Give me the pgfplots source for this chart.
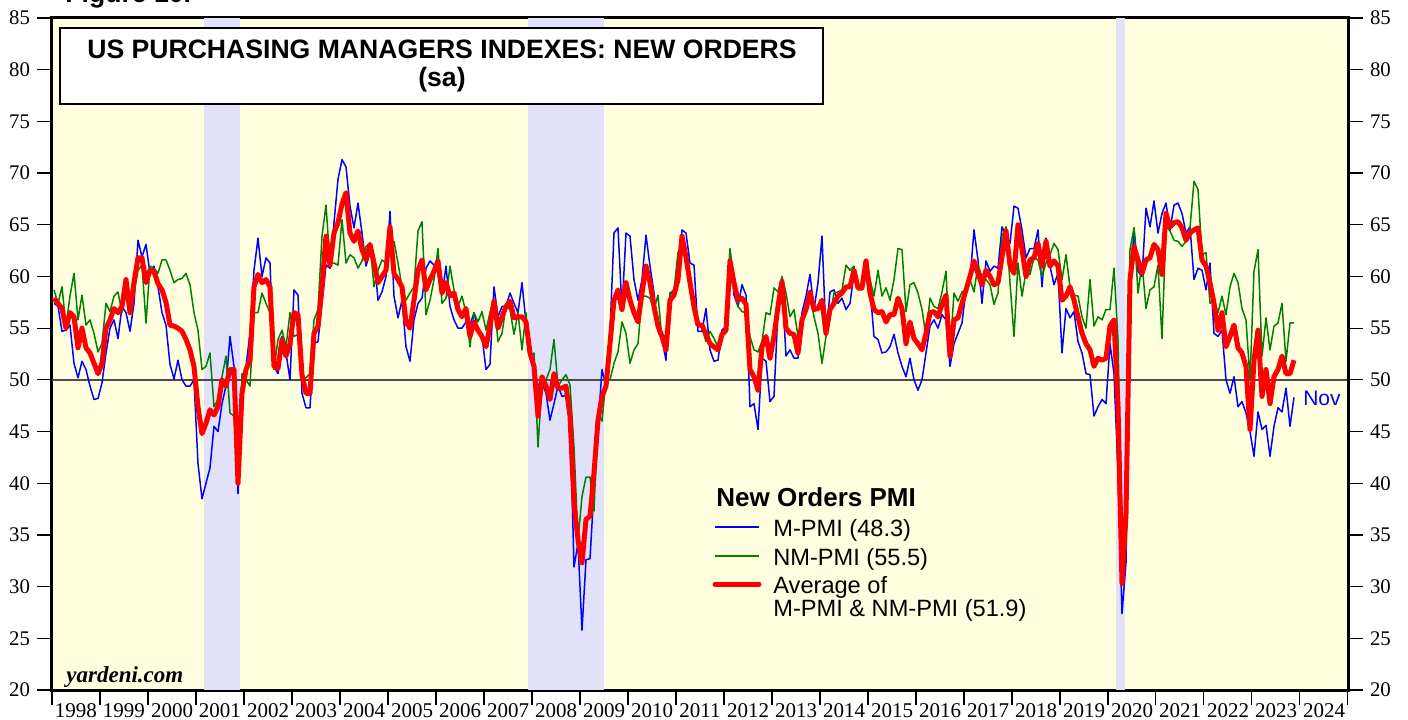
\documentclass[border=0pt]{standalone}
\usepackage{fontspec}
\setmainfont{Liberation Serif}
\setsansfont{Liberation Sans}
\usepackage{pgfplots}
\pgfplotsset{compat=1.18}
\usepackage{pgfplotstable}
\definecolor{bgyellow}{RGB}{255,255,224}
\definecolor{recess}{RGB}{225,225,250}
\definecolor{mblue}{RGB}{0,0,255}
\definecolor{nmgreen}{RGB}{0,128,0}
\definecolor{avgred}{RGB}{255,0,0}

\pgfplotstableread{
i m nm avg
0 57.4 58.7 57.9
1 57.1 57.4 57.4
2 54.7 59.0 56.9
3 54.8 55.2 55.0
4 55.3 58.1 56.5
5 51.6 60.3 56.1
6 50.2 55.8 53.1
7 51.8 58.2 55.0
8 51.0 55.3 53.1
9 49.4 55.8 52.6
10 48.1 54.5 51.6
11 48.2 52.7 50.6
12 49.7 53.5 51.6
13 52.6 57.4 55.0
14 55.0 56.6 55.8
15 55.8 58.1 56.9
16 54.0 58.5 56.5
17 57.1 56.5 57.1
18 56.5 59.7 59.7
19 54.7 56.5 56.5
20 57.4 58.4 59.4
21 63.5 60.6 61.8
22 61.9 61.1 61.8
23 63.1 55.5 59.4
24 60.3 61.0 60.6
25 61.0 60.8 60.5
26 59.0 60.3 59.3
27 56.5 61.6 58.7
28 55.3 61.6 57.5
29 51.5 60.6 55.3
30 50.1 59.4 55.2
31 51.9 59.7 55.0
32 50.0 59.8 54.7
33 49.4 60.3 53.9
34 49.4 59.2 52.9
35 50.0 56.5 51.3
36 41.9 54.8 47.4
37 38.5 51.0 44.8
38 40.0 51.3 45.8
39 41.5 52.6 47.1
40 45.5 47.4 46.6
41 45.0 48.1 47.4
42 47.7 50.3 50.0
43 49.4 52.3 49.4
44 54.2 46.8 51.0
45 51.3 46.5 51.0
46 39.0 41.0 40.0
47 47.4 50.6 48.7
48 51.3 50.0 51.0
49 54.5 49.4 51.9
50 60.6 56.5 59.0
51 63.7 56.5 60.2
52 60.0 58.4 59.4
53 61.8 57.4 59.7
54 61.3 56.5 59.0
55 51.3 51.0 51.3
56 50.6 53.9 51.1
57 54.2 54.8 53.9
58 52.6 53.2 52.3
59 50.0 56.5 53.5
60 58.7 54.2 56.5
61 58.2 54.4 56.3
62 48.7 50.0 50.5
63 47.3 50.2 48.7
64 47.3 50.6 48.7
65 53.5 55.8 54.5
66 53.7 56.8 55.2
67 57.4 63.9 59.0
68 61.1 66.9 63.9
69 60.8 61.3 61.1
70 65.2 61.3 64.2
71 69.4 61.1 65.2
72 71.3 65.5 67.0
73 70.6 61.3 68.1
74 66.8 62.1 64.2
75 64.7 61.8 63.4
76 67.1 60.8 64.4
77 64.2 61.5 62.6
78 61.0 62.9 61.6
79 62.3 63.2 63.1
80 62.1 59.0 61.3
81 57.7 60.6 59.4
82 58.5 61.6 60.0
83 60.0 61.3 60.6
84 66.3 62.6 64.8
85 58.1 63.4 60.3
86 56.0 61.3 59.7
87 57.7 59.0 59.0
88 53.2 57.7 55.6
89 51.8 58.4 55.0
90 55.8 59.0 57.7
91 57.4 64.4 60.6
92 57.9 65.3 61.6
93 60.8 56.3 58.7
94 61.5 57.7 59.7
95 61.1 59.7 60.5
96 60.3 62.7 61.5
97 58.2 57.4 58.4
98 61.0 57.9 59.4
99 57.1 61.0 58.1
100 55.8 58.7 58.4
101 55.0 57.1 56.8
102 55.0 58.1 56.1
103 55.6 56.5 56.9
104 55.3 53.2 54.2
105 56.5 56.5 55.6
106 54.8 55.6 54.8
107 54.2 56.6 54.2
108 51.0 54.8 53.2
109 51.5 56.5 55.2
110 59.0 57.7 57.6
111 56.1 53.7 55.0
112 57.1 54.5 56.1
113 57.1 57.1 57.1
114 58.4 56.8 57.6
115 57.4 54.4 56.0
116 56.5 56.5 56.1
117 59.4 52.9 56.1
118 55.5 56.5 55.6
119 53.2 52.3 52.6
120 51.0 52.6 51.3
121 49.5 43.5 46.5
122 49.7 49.7 50.3
123 48.7 50.0 49.4
124 46.1 51.0 48.1
125 47.7 53.9 50.6
126 49.4 49.4 49.2
127 48.4 50.0 49.2
128 48.5 50.5 49.4
129 46.8 49.5 46.5
130 31.9 43.5 38.1
131 34.2 34.5 34.5
132 25.8 38.7 32.3
133 32.6 40.6 36.5
134 32.7 40.6 36.8
135 39.4 37.3 41.0
136 45.5 46.8 46.1
137 51.0 46.0 48.4
138 49.4 50.0 49.4
139 54.5 50.0 53.5
140 64.2 51.6 57.7
141 64.7 52.7 58.7
142 56.8 55.6 56.8
143 64.2 54.5 59.4
144 63.9 51.6 57.7
145 59.7 52.9 56.5
146 57.7 53.5 55.6
147 59.7 58.1 58.4
148 64.0 58.1 61.0
149 61.0 57.9 59.4
150 58.4 56.8 57.1
151 54.7 58.2 55.2
152 53.9 53.9 54.2
153 51.9 53.2 52.9
154 58.4 58.4 57.7
155 58.4 58.7 58.2
156 60.0 62.3 59.7
157 64.5 63.2 63.9
158 64.2 61.3 61.9
159 61.3 59.0 59.4
160 61.1 56.3 57.1
161 54.7 55.6 55.3
162 54.7 55.0 55.3
163 56.9 53.7 54.4
164 52.9 54.7 53.5
165 51.8 54.0 53.2
166 51.9 53.2 52.9
167 54.8 54.2 54.4
168 55.2 55.2 54.8
169 62.6 62.7 61.5
170 58.2 59.0 59.4
171 57.1 57.1 57.7
172 59.2 56.6 57.9
173 58.2 56.5 57.3
174 47.4 54.2 51.0
175 47.7 52.9 50.3
176 45.2 52.7 49.0
177 52.1 53.7 53.2
178 51.8 56.5 54.2
179 47.9 56.3 52.1
180 48.4 58.9 54.2
181 56.8 58.5 57.1
182 59.4 60.0 59.5
183 52.3 58.4 55.0
184 52.9 56.1 54.5
185 52.1 56.8 54.4
186 52.1 54.2 52.6
187 56.5 55.6 55.8
188 58.1 56.6 56.8
189 60.2 58.1 58.5
190 56.8 56.1 56.8
191 59.4 54.5 56.9
192 63.9 51.6 57.7
193 54.2 54.2 54.5
194 58.5 56.1 56.8
195 58.7 58.4 57.4
196 57.4 58.5 58.1
197 57.9 58.7 58.4
198 56.8 61.1 59.0
199 57.4 60.6 59.0
200 60.3 61.0 60.6
201 59.0 58.7 58.9
202 59.0 58.7 58.9
203 61.6 61.3 61.5
204 58.9 59.7 58.4
205 54.2 58.1 56.8
206 53.9 60.6 56.5
207 52.6 58.1 56.6
208 52.7 58.9 55.6
209 53.2 57.7 56.3
210 54.4 59.7 56.3
211 52.6 62.7 57.9
212 51.3 62.6 56.9
213 50.3 56.6 53.5
214 52.1 59.2 55.6
215 50.0 59.4 54.0
216 49.0 58.4 53.5
217 50.0 56.8 52.9
218 52.6 54.2 54.5
219 55.2 57.9 56.5
220 55.8 57.1 56.6
221 55.0 56.9 56.1
222 56.3 58.5 57.3
223 55.8 60.5 58.2
224 51.3 52.6 52.3
225 53.5 58.4 55.8
226 54.5 57.6 56.0
227 55.5 58.5 57.4
228 58.7 58.7 58.7
229 59.7 59.7 60.0
230 64.5 58.5 61.5
231 61.6 61.1 60.3
232 57.4 60.0 59.2
233 61.5 59.7 60.6
234 60.5 59.2 60.0
235 61.0 57.3 59.2
236 60.8 58.4 59.4
237 64.8 63.9 61.9
238 63.9 64.8 64.4
239 63.2 59.4 61.1
240 66.8 54.2 60.3
241 66.6 61.3 65.0
242 64.5 58.1 62.6
243 61.8 60.5 60.0
244 62.7 60.2 61.6
245 62.7 61.8 61.8
246 64.5 61.6 63.2
247 59.0 60.0 61.0
248 63.7 61.3 63.4
249 61.0 62.1 61.0
250 59.2 63.2 61.5
251 60.3 62.6 61.0
252 52.6 59.7 57.7
253 56.9 62.1 58.1
254 56.0 59.0 59.0
255 56.6 58.2 57.7
256 53.7 58.1 56.1
257 52.6 56.1 54.5
258 50.6 55.0 53.5
259 50.5 59.7 52.9
260 46.5 55.2 51.3
261 47.4 56.1 52.1
262 48.1 55.8 51.9
263 47.7 56.8 52.1
264 53.5 56.8 55.2
265 50.6 60.8 55.8
266 41.0 53.9 47.4
267 27.4 34.5 30.3
268 32.3 37.7 37.0
269 58.1 62.6 59.7
270 64.7 64.7 62.9
271 60.5 58.4 61.6
272 60.0 61.3 60.3
273 66.6 56.9 61.6
274 64.8 58.7 61.8
275 67.3 59.0 63.1
276 64.2 61.1 62.6
277 66.1 54.0 60.2
278 67.1 64.8 66.1
279 64.5 64.4 64.8
280 66.9 63.5 65.2
281 67.1 63.4 65.3
282 66.1 62.9 64.7
283 64.2 63.4 63.5
284 64.8 64.7 64.2
285 59.7 69.2 64.5
286 60.8 68.4 64.7
287 60.6 62.1 61.6
288 58.7 62.3 61.0
289 61.3 57.4 59.4
290 54.5 57.7 57.4
291 54.2 56.5 54.8
292 54.8 58.1 56.5
293 50.0 56.3 53.2
294 48.7 59.0 54.2
295 50.3 60.3 55.3
296 47.4 59.4 53.1
297 47.9 56.9 52.6
298 46.8 55.8 51.3
299 45.0 50.0 45.2
300 42.6 60.5 51.9
301 46.9 62.6 54.8
302 45.2 52.3 48.4
303 45.6 56.0 51.0
304 42.6 52.9 47.7
305 45.5 55.2 50.3
306 47.3 55.5 51.0
307 46.9 57.4 52.3
308 49.2 51.8 50.6
309 45.5 55.5 50.6
310 48.3 55.5 51.9
}\pmidata

\begin{document}
\begin{tikzpicture}
\useasboundingbox (-26pt,-14.5pt) rectangle (678pt,345pt);
\begin{axis}[
  at={(0pt,0pt)}, anchor=south west,
  scale only axis, width=648pt, height=336pt,
  xmin=1998, xmax=2025, ymin=20, ymax=85,
  axis background/.style={fill=bgyellow},
  axis line style={line width=1.5pt},
  tick align=outside,
  major tick length=7.5pt,
  tick style={black, line width=0.6pt},
  ytick={20,25,...,85},
  ytick pos=left,
  xtick pos=bottom,
  xtick={1998,1999,...,2025},
  xticklabels={},
  extra x ticks={1998.5,1999.5,2000.5,2001.5,2002.5,2003.5,2004.5,2005.5,2006.5,2007.5,2008.5,2009.5,2010.5,2011.5,2012.5,2013.5,2014.5,2015.5,2016.5,2017.5,2018.5,2019.5,2020.5,2021.5,2022.5,2023.5,2024.5},
  extra x tick labels={1998,1999,2000,2001,2002,2003,2004,2005,2006,2007,2008,2009,2010,2011,2012,2013,2014,2015,2016,2017,2018,2019,2020,2021,2022,2023,2024},
  extra x tick style={tick style={draw=none}, xticklabel style={yshift=2pt}},
  xticklabel style={font=\fontsize{10.5}{12}\selectfont, inner sep=1pt},
  yticklabel style={font=\fontsize{10.4}{12}\selectfont},
  /pgf/number format/assume math mode=true,
  clip=true,
]
\fill[recess] (axis cs:2001.17,20) rectangle (axis cs:2001.92,85);
\fill[recess] (axis cs:2007.92,20) rectangle (axis cs:2009.5,85);
\fill[recess] (axis cs:2020.17,20) rectangle (axis cs:2020.36,85);
\draw[black!70, line width=0.8pt] (axis cs:1998,50) -- (axis cs:2025,50);
\addplot[mblue, line width=0.75pt, line join=round] table[x expr={1998+(\thisrow{i}+0.5)/12}, y=m] {\pmidata};
\addplot[nmgreen, line width=0.75pt, line join=round] table[x expr={1998+(\thisrow{i}+0.5)/12}, y=nm] {\pmidata};
\addplot[avgred, line width=2.5pt, line join=round] table[x expr={1998+(\thisrow{i}+0.5)/12}, y=avg] {\pmidata};
\node[anchor=west, inner sep=0pt, text=mblue, font=\sffamily\fontsize{10.5}{12}\selectfont] at (axis cs:2024.06,48.2) {Nov};
\end{axis}
\begin{axis}[
  at={(0pt,0pt)}, anchor=south west,
  scale only axis, width=648pt, height=336pt,
  xmin=1998, xmax=2025, ymin=20, ymax=85,
  axis y line*=right, hide x axis,
  axis line style={line width=1.5pt},
  tick align=outside,
  major tick length=7.5pt,
  tick style={black, line width=0.6pt},
  ytick={20,25,...,85},
  yticklabel style={font=\fontsize{10.4}{12}\selectfont},
  /pgf/number format/assume math mode=true,
]
\end{axis}
% title box
\draw[line width=1pt, fill=white] (4pt,293pt) rectangle (385.5pt,331pt);
\node[font=\sffamily\bfseries\fontsize{13.3}{14}\selectfont, align=center] at (195pt,312pt) {US PURCHASING MANAGERS INDEXES: NEW ORDERS\\(sa)};
\node[anchor=base west, inner sep=0pt, font=\sffamily\bfseries\fontsize{13.3}{14}\selectfont] at (6.5pt,343.5pt) {Figure 10.};
\node[anchor=base west, inner sep=0pt, font=\rmfamily\bfseries\itshape\fontsize{11.5}{13}\selectfont] at (7pt,4pt) {yardeni.com};
% legend
\node[anchor=base west, inner sep=0pt, font=\sffamily\bfseries\fontsize{13}{15}\selectfont] at (332pt,91.7pt) {New Orders PMI};
\draw[mblue, line width=0.75pt] (331.5pt,81.5pt) -- (353.5pt,81.5pt);
\draw[nmgreen, line width=0.75pt] (331.5pt,67pt) -- (353.5pt,67pt);
\draw[avgred, line width=2.5pt, line cap=round] (331.5pt,53pt) -- (353.5pt,53pt);
\node[anchor=base west, inner sep=0pt, font=\sffamily\fontsize{11.8}{14}\selectfont] at (360.5pt,76.7pt) {M-PMI (48.3)};
\node[anchor=base west, inner sep=0pt, font=\sffamily\fontsize{11.8}{14}\selectfont] at (360.5pt,62.5pt) {NM-PMI (55.5)};
\node[anchor=base west, inner sep=0pt, font=\sffamily\fontsize{11.8}{14}\selectfont] at (360.5pt,48.3pt) {Average of};
\node[anchor=base west, inner sep=0pt, font=\sffamily\fontsize{11.8}{14}\selectfont] at (360.5pt,36.7pt) {M-PMI \& NM-PMI (51.9)};
\end{tikzpicture}
\end{document}
